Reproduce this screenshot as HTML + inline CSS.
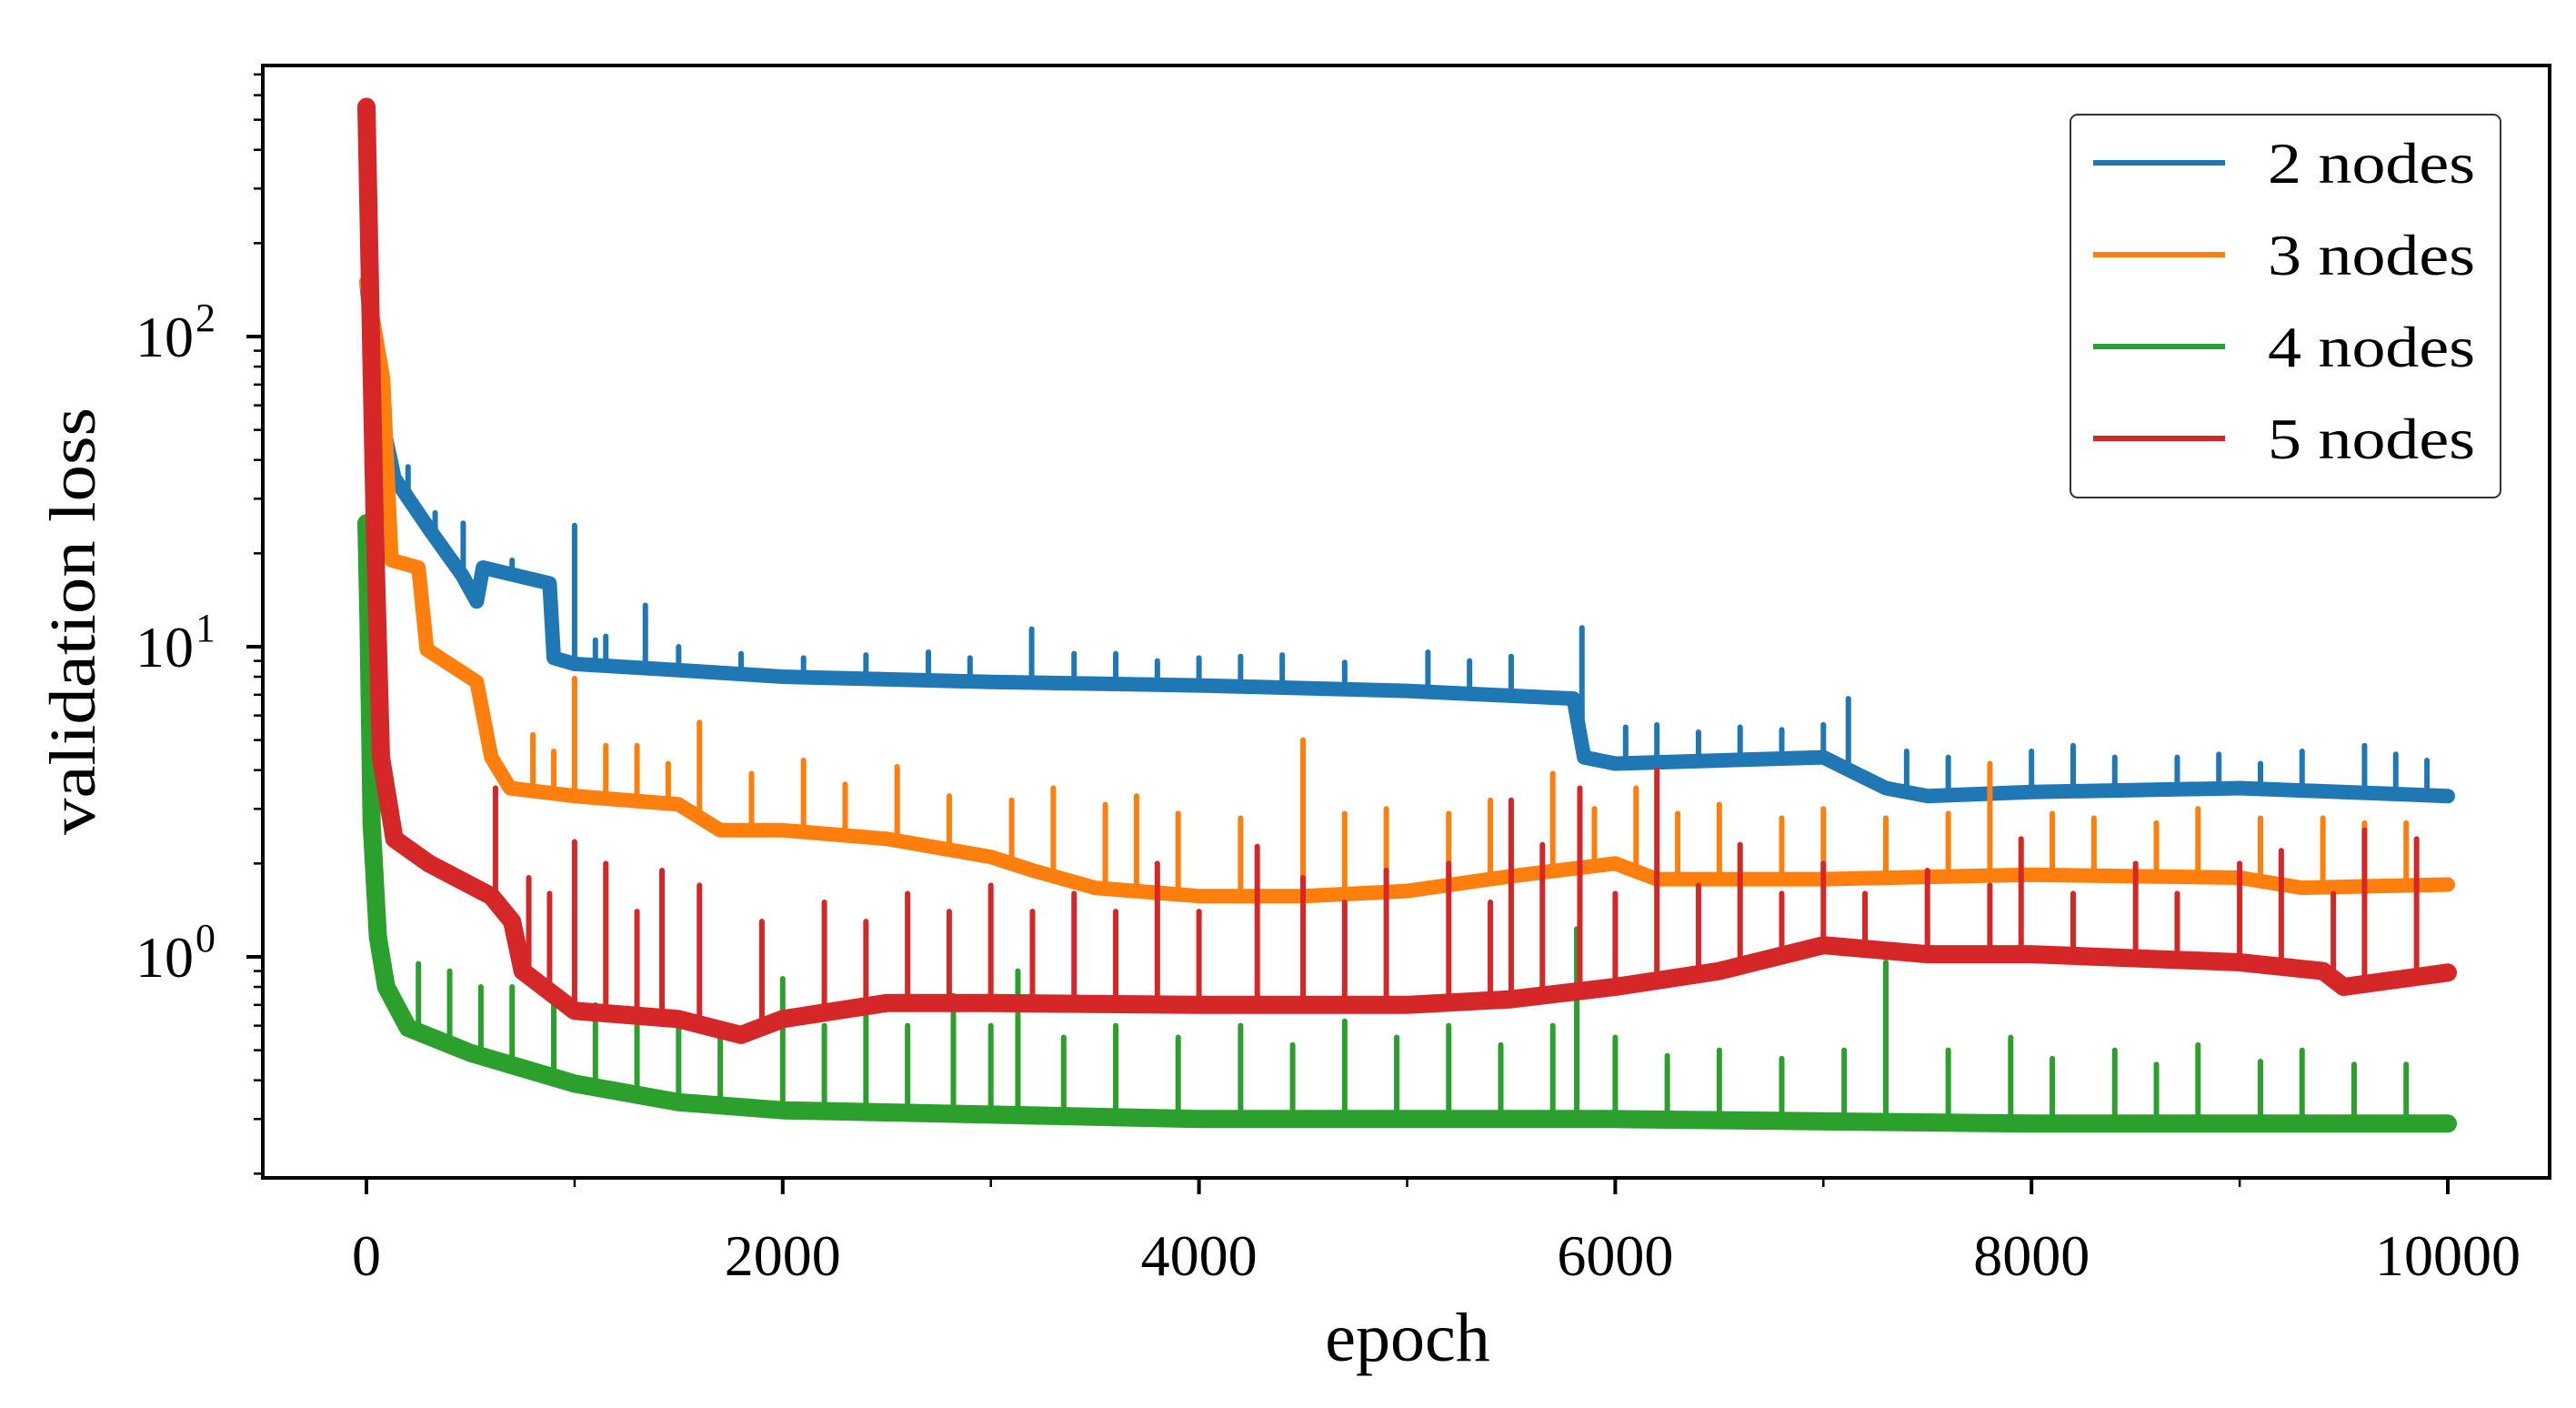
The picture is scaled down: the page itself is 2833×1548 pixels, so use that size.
<!DOCTYPE html>
<html><head><meta charset="utf-8"><style>
html,body{margin:0;padding:0;background:#fff}
svg{display:block}
text{font-family:"Liberation Serif","DejaVu Serif",serif;fill:#000}
</style></head><body>
<svg id="chart" width="2833" height="1548" viewBox="0 0 2833 1548" xmlns="http://www.w3.org/2000/svg">
<rect width="2833" height="1548" fill="#fff"/>
<g id="series"></g>
<g id="axes"></g>
<text x="1548" y="1496" font-size="76" text-anchor="middle">epoch</text>
<text x="0" y="0" font-size="72" text-anchor="middle" transform="translate(104,683) rotate(-90)" textLength="470" lengthAdjust="spacingAndGlyphs">validation loss</text>
<g>
<rect x="2277" y="126" width="473" height="421" rx="8" fill="#fff" stroke="#333" stroke-width="2"/>
<line x1="2302" y1="179" x2="2447" y2="179" stroke="#1f77b4" stroke-width="6"/>
<text x="2494" y="201" font-size="64" textLength="228" lengthAdjust="spacingAndGlyphs">2 nodes</text>
<line x1="2302" y1="280" x2="2447" y2="280" stroke="#ff7f0e" stroke-width="6"/>
<text x="2494" y="302" font-size="64" textLength="228" lengthAdjust="spacingAndGlyphs">3 nodes</text>
<line x1="2302" y1="381" x2="2447" y2="381" stroke="#2ca02c" stroke-width="6"/>
<text x="2494" y="403" font-size="64" textLength="228" lengthAdjust="spacingAndGlyphs">4 nodes</text>
<line x1="2302" y1="482" x2="2447" y2="482" stroke="#d62728" stroke-width="6"/>
<text x="2494" y="504" font-size="64" textLength="228" lengthAdjust="spacingAndGlyphs">5 nodes</text>
</g>
</svg>
<script>
// ---- data ----
const blueEpochs = [0,60,134,300,460,530,560,880,900,1000,1500,2000,3000,4000,5000,5800,5850,6000,7000,7300,7500,8000,9000,10000];
const blueValues = [150,60,35,24,17,14,18,16,9.2,8.8,8.4,8.0,7.7,7.5,7.2,6.8,4.4,4.2,4.4,3.5,3.3,3.4,3.5,3.3];
const blueSpikes = [[200,38],[330,27],[465,25],[700,19],[1000,24.6],[1100,10.5],[1340,13.6],[1150,10.8],[1500,10],[1800,9.5],[2100,9.2],[2400,9.4],[2700,9.6],[2900,9.2],[3196,11.4],[3400,9.5],[3600,9.5],[3800,9.0],[4000,9.2],[4200,9.3],[4400,9.4],[4700,8.9],[5100,9.6],[5300,9.0],[5500,9.3],[5840,11.5],[6050,5.5],[6200,5.6],[6400,5.3],[6600,5.5],[6800,5.4],[7120,6.8],[7000,5.6],[7400,4.6],[7600,4.4],[7800,3.9],[8000,4.6],[8200,4.8],[8400,4.4],[8700,4.4],[8900,4.5],[9100,4.2],[9300,4.6],[9600,4.8],[9750,4.5],[9900,4.3]];

const orangeEpochs = [0,80,120,250,290,530,600,690,1000,1500,1700,2000,2500,3000,3200,3500,4000,4500,5000,5500,6000,6200,7000,8000,9000,9300,10000];
const orangeValues = [150,73,19,18,9.8,7.7,4.4,3.5,3.3,3.1,2.56,2.56,2.4,2.1,1.9,1.67,1.57,1.57,1.63,1.82,2.0,1.78,1.78,1.84,1.8,1.67,1.71];
const orangeSpikes = [[800,5.2],[900,4.6],[1000,7.9],[1150,4.8],[1300,4.8],[1450,4.2],[1600,5.7],[1850,3.9],[2100,4.3],[2300,3.6],[2550,4.1],[2800,3.3],[3100,3.2],[3300,3.5],[3550,3.1],[3700,3.3],[3900,2.9],[4200,2.8],[4500,5.0],[4700,2.9],[4900,3.0],[5200,2.9],[5400,3.2],[5700,3.9],[5900,3.0],[6100,3.5],[6300,2.9],[6500,3.1],[6800,2.8],[7000,3.0],[7300,2.8],[7600,2.9],[7800,4.2],[8100,2.9],[8300,2.8],[8600,2.7],[8800,3.0],[9100,2.8],[9400,2.8],[9600,2.7],[9800,2.7]];

const greenEpochs = [0,10,25,55,95,200,500,1000,1500,2000,3000,4000,6000,8000,10000];
const greenValues = [25,12,2.7,1.16,0.8,0.59,0.49,0.39,0.34,0.32,0.31,0.30,0.30,0.29,0.29];
const greenSpikes = [[250,0.95],[400,0.9],[550,0.8],[700,0.8],[900,0.7],[1100,0.7],[1300,0.62],[1500,0.65],[1700,0.6],[2000,0.85],[2200,0.6],[2400,0.7],[2600,0.6],[2820,0.75],[3000,0.6],[3130,0.9],[3350,0.55],[3600,0.6],[3900,0.55],[4200,0.6],[4450,0.52],[4700,0.62],[4950,0.55],[5200,0.6],[5450,0.52],[5700,0.6],[5815,1.23],[6000,0.55],[6250,0.48],[6500,0.5],[6800,0.47],[7100,0.5],[7300,0.96],[7600,0.5],[7900,0.55],[8100,0.47],[8400,0.5],[8600,0.45],[8800,0.52],[9100,0.46],[9300,0.5],[9550,0.45],[9800,0.45]];

const redEpochs = [0,40,70,134,300,600,700,750,1000,1500,1800,2000,2500,3000,4000,5000,5500,6000,6500,7000,7500,8000,9000,9400,9500,10000];
const redValues = [550,24,4.4,2.4,2.0,1.57,1.3,0.9,0.67,0.63,0.56,0.63,0.71,0.71,0.70,0.70,0.73,0.8,0.9,1.09,1.02,1.02,0.96,0.9,0.8,0.89];
const redSpikes = [[620,3.5],[780,1.8],[880,1.6],[1000,2.35],[1150,2.0],[1300,1.4],[1420,1.9],[1600,1.7],[1900,1.3],[2200,1.5],[2400,1.3],[2600,1.6],[2800,1.4],[3000,1.7],[3200,1.4],[3400,1.6],[3600,1.4],[3800,2.0],[4000,1.4],[4280,2.27],[4500,1.8],[4700,1.5],[4900,1.9],[5200,2.0],[5400,1.5],[5500,3.2],[5650,2.3],[5830,3.5],[6000,1.6],[6200,4.0],[6400,1.7],[6600,2.3],[6800,1.6],[7000,2.0],[7200,1.6],[7500,1.9],[7800,1.7],[7950,2.4],[8200,1.6],[8500,2.0],[8700,1.6],[9000,2.0],[9200,2.2],[9450,1.6],[9600,2.56],[9850,2.4]];

const xTicks = [0,2000,4000,6000,8000,10000];
const xMinor = [1000,3000,5000,7000,9000];
const yMajorExp = [0,1,2];

// ---- scales ----
const X0 = 403, XPX = (2692 - 403) / 10000;
const Y0 = 1052, DEC = 341;
const L = 289, R = 2804, T = 72, B = 1295;
function sx(e){ return X0 + e * XPX; }
function sy(v){ return Y0 - DEC * Math.log10(v); }
const NS = 'http://www.w3.org/2000/svg';
function mk(tag, attrs, parent){ const el = document.createElementNS(NS, tag); for (const k in attrs) el.setAttribute(k, attrs[k]); parent.appendChild(el); return el; }

const sg = document.getElementById('series');
const ag = document.getElementById('axes');

function interp(eps, vals, e){
  for (let i = 1; i < eps.length; i++) {
    if (e <= eps[i]) { const t = (e - eps[i-1]) / (eps[i] - eps[i-1]); return Math.pow(10, Math.log10(vals[i-1]) + t * (Math.log10(vals[i]) - Math.log10(vals[i-1]))); }
  }
  return vals[vals.length - 1];
}
function drawSeries(name, eps, vals, spikes, color, bw){
  const g = mk('g', {}, sg);
  
  
  const pts = eps.map((e, i) => sx(e).toFixed(1) + ',' + sy(vals[i]).toFixed(1)).join(' ');
  const band = mk('polyline', {points: pts, fill: 'none', stroke: color, 'stroke-width': bw, 'stroke-linejoin': 'round', 'stroke-linecap': 'round'}, g);
  
  
  spikes.forEach(s => {
    const base = interp(eps, vals, s[0]);
    const sp = mk('line', {x1: sx(s[0]), x2: sx(s[0]), y1: sy(base), y2: sy(s[1]), stroke: color, 'stroke-width': 6, 'stroke-linecap': 'round'}, g);
    
    
  });
}
drawSeries('series-2-nodes', blueEpochs, blueValues, blueSpikes, '#1f77b4', 16);
drawSeries('series-3-nodes', orangeEpochs, orangeValues, orangeSpikes, '#ff7f0e', 16);
drawSeries('series-4-nodes', greenEpochs, greenValues, greenSpikes, '#2ca02c', 20);
drawSeries('series-5-nodes', redEpochs, redValues, redSpikes, '#d62728', 20);

// frame
const fr = mk('rect', {x: L, y: T, width: R - L, height: B - T, fill: 'none', stroke: '#000', 'stroke-width': 4}, ag);



// x ticks
xTicks.forEach(t => {
  const tk = mk('line', {x1: sx(t), x2: sx(t), y1: B, y2: B + 18, stroke: '#000', 'stroke-width': 4}, ag);
  
  
  const lb = mk('text', {x: sx(t), y: 1402, 'font-size': 64, 'text-anchor': 'middle'}, ag);
  lb.textContent = String(t);
  
  
});
xMinor.forEach(t => {
  const tk = mk('line', {x1: sx(t), x2: sx(t), y1: B, y2: B + 10, stroke: '#000', 'stroke-width': 2.5}, ag);
  
  
});
// y ticks
yMajorExp.forEach(k => {
  const y = sy(Math.pow(10, k));
  const tk = mk('line', {x1: L - 18, x2: L, y1: y, y2: y, stroke: '#000', 'stroke-width': 4}, ag);
  
  
  const lb = mk('text', {x: 213, y: y + 22, 'font-size': 64, 'text-anchor': 'end'}, ag);
  lb.textContent = '10';
  
  
  const sup = mk('text', {x: 215, y: y - 6, 'font-size': 44}, ag);
  sup.textContent = String(k);
  
  
});
for (let k = -1; k <= 2; k++) {
  for (let m = 2; m <= 9; m++) {
    const y = sy(m * Math.pow(10, k));
    if (y < T || y > B) continue;
    const tk = mk('line', {x1: L - 10, x2: L, y1: y, y2: y, stroke: '#000', 'stroke-width': 2.5}, ag);
    
    
  }
}
</script>
</body></html>
